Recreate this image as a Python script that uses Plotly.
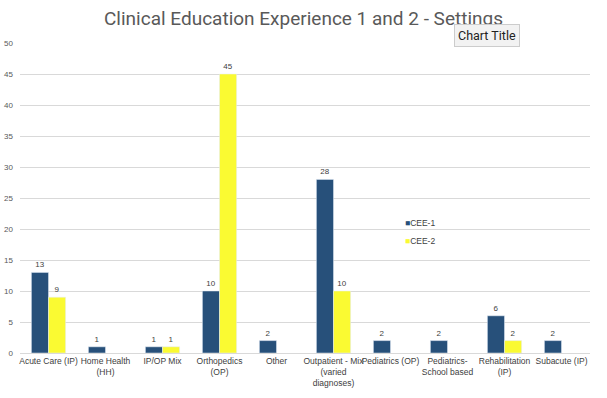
import plotly.graph_objects as go

categories = ["Acute Care (IP)", "Home Health<br>(HH)", "IP/OP Mix", "Orthopedics<br>(OP)", "Other",
              "Outpatient - Mix<br>(varied<br>diagnoses)", "Pediatrics (OP)", "Pediatrics-<br>School based",
              "Rehabilitation<br>(IP)", "Subacute (IP)"]
cee1 = [13, 1, 1, 10, 2, 28, 2, 2, 6, 2]
cee2 = [9, None, 1, 45, None, 10, None, None, 2, None]
series_names = ["CEE-1", "CEE-2"]
yticks = [0, 5, 10, 15, 20, 25, 30, 35, 40, 45, 50]

c1 = "#27507A"
c2 = "#FAFA32"

def lbl(v):
    return ["" if x is None else str(x) for x in v]

fig = go.Figure()
fig.add_trace(go.Bar(x=categories, y=cee1, name=series_names[0], marker_color=c1,
                     text=lbl(cee1), textposition="outside", cliponaxis=False,
                     textfont=dict(size=8, color="#404040")))
fig.add_trace(go.Bar(x=categories, y=cee2, name=series_names[1], marker_color=c2,
                     text=lbl(cee2), textposition="outside", cliponaxis=False,
                     textfont=dict(size=8, color="#404040")))

fig.update_layout(
    width=607, height=398,
    paper_bgcolor="white", plot_bgcolor="white",
    margin=dict(l=20, r=17, t=43, b=45, autoexpand=False),
    barmode="group", bargap=0.4, bargroupgap=0,
    font=dict(family="Liberation Sans, Arial, sans-serif", size=8, color="#595959"),
    title=dict(text="Clinical Education Experience 1 and 2 - Settings", x=0.5, xanchor="center",
               y=0.955, yanchor="middle",
               font=dict(family="Roboto, sans-serif", size=19, color="#595959")),
    showlegend=False,
)
fig.update_xaxes(showline=True, linecolor="#D9D9D9", linewidth=1, ticks="", tickangle=0,
                 automargin=False, tickfont=dict(size=8.5, color="#404040"))
fig.update_yaxes(range=[0, 50], tickvals=yticks, showgrid=True, gridcolor="#D9D9D9", gridwidth=1,
                 zeroline=False, automargin=False, tickfont=dict(size=8, color="#595959"),
                 ticklabelstandoff=6)

# legend drawn as text entries
for name, col, yy in [(series_names[0], c1, 0.419), (series_names[1], c2, 0.361)]:
    fig.add_annotation(text=f"<span style='color:{col}'>■</span>{name}", xref="paper", yref="paper",
                       x=0.672, y=yy, xanchor="left", yanchor="middle", showarrow=False,
                       font=dict(size=8.5, color="#404040"))

fig.add_annotation(text="Chart Title", xref="paper", yref="paper", x=0.762, y=1.024,
                   xanchor="left", yanchor="middle", showarrow=False,
                   font=dict(family="Roboto, sans-serif", size=12.5, color="#222222"),
                   bgcolor="#F2F2F2", bordercolor="#CCCCCC", borderwidth=1, borderpad=3)

fig.write_html("out.html", config={"displayModeBar": False},
               post_script="document.body.style.margin='0';")
